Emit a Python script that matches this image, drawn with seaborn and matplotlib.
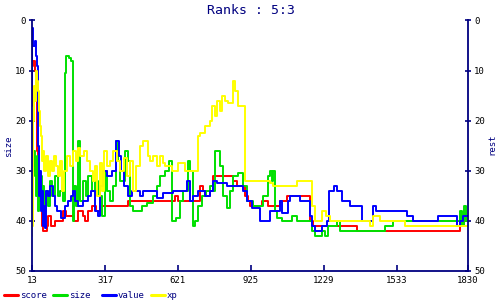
import matplotlib
matplotlib.use("Agg")
import matplotlib.pyplot as plt
import seaborn as sns
import pandas as pd
from matplotlib.lines import Line2D

sns.set_theme(style="white")
plt.rcParams['font.family'] = ['DejaVu Sans Mono', 'DejaVu Sans']

title = "Ranks : 5:3"
left_label = "size"
right_label = "rest"
series_names = ["score", "size", "value", "xp"]
series_colors = ["#ff0000", "#00e000", "#0000ff", "#ffff00"]
x_ticks = [13, 317, 621, 925, 1229, 1533, 1830]
y_ticks = [0, 10, 20, 30, 40, 50]

score_x = [13, 15, 17, 25, 30, 34, 38, 46, 55, 59, 76, 80, 92, 109, 142, 155, 188, 205, 226, 234,
           246, 263, 280, 296, 346, 413, 609, 622, 713, 726, 734, 755, 768, 851, 868, 901, 913, 921,
           972, 997, 1047, 1076, 1172, 1185, 1368, 1798, 1830]
score_y = [17, 9, 8, 10, 11, 26, 35, 36, 41, 42, 41, 39, 41, 40, 38, 39, 40, 38, 39, 40,
           38, 37, 38, 37, 37, 36, 35, 36, 33, 34, 35, 34, 31, 32, 33, 35, 36, 37,
           36, 37, 36, 35, 40, 41, 42, 40, 40]

size_x = [13, 17, 21, 25, 30, 34, 38, 42, 46, 51, 55, 59, 63, 71, 80, 88, 96, 109, 121, 130,
          142, 151, 155, 167, 176, 184, 188, 196, 205, 213, 226, 238, 246, 263, 276, 288, 305, 317,
          326, 338, 351, 363, 372, 380, 401, 413, 422, 434, 472, 493, 518, 534, 547, 568, 584, 597,
          613, 630, 643, 664, 672, 684, 693, 705, 722, 739, 755, 768, 776, 797, 809, 826, 839, 851,
          872, 893, 910, 935, 976, 997, 1005, 1014, 1018, 1026, 1035, 1056, 1097, 1118, 1180, 1193,
          1222, 1235, 1247, 1285, 1297, 1485, 1518, 1798, 1806, 1814, 1823, 1830]
size_y = [26, 29, 26, 31, 35, 27, 38, 33, 36, 31, 37, 33, 38, 34, 37, 32, 35, 31, 35, 34,
          36, 10.5, 7, 7.5, 8, 40, 33, 37, 24, 36, 32, 35, 31, 34, 32, 35, 39, 30,
          34, 36, 33, 24, 28, 32, 26, 28, 37, 38, 37, 36.5, 35, 33, 31, 30, 28, 40,
          39.5, 36, 34, 28, 30, 41, 40, 37, 35, 34, 33, 34, 26, 29, 35, 37.5, 34, 31,
          30.5, 33, 36, 37, 35, 31, 30, 32, 30, 38, 39.5, 40, 39, 40, 42, 43,
          42, 43, 41, 40, 42, 41, 40, 38, 41, 37, 40, 40]

value_x = [13, 15, 17, 25, 30, 34, 38, 42, 46, 51, 55, 59, 63, 67, 71, 80, 88, 101, 109, 117,
           134, 151, 163, 176, 184, 192, 205, 226, 246, 259, 276, 288, 296, 309, 326, 346, 363, 376,
           384, 397, 413, 430, 463, 476, 534, 559, 601, 659, 672, 684, 705, 734, 755, 768, 784, 826,
           893, 910, 930, 964, 1005, 1047, 1055, 1080, 1089, 1130, 1172, 1180, 1193, 1222, 1243, 1251,
           1272, 1285, 1306, 1339, 1389, 1435, 1447, 1577, 1602, 1706, 1785, 1798, 1810, 1830]
value_y = [13, 1.5, 5, 4, 7, 9, 25, 35, 30, 38, 34, 41, 37, 41.5, 34, 35, 33, 35, 37, 38,
           39.5, 37, 36, 35, 34, 36, 37, 36, 35, 34, 38, 39, 33, 30, 31, 30, 24, 27,
           30, 33, 35, 34, 35, 34, 35.5, 34.5, 34, 32, 36, 35, 34, 35, 34, 32, 32.5, 33,
           34, 36, 37.5, 40, 38, 36, 38.5, 36, 35, 36, 39, 41, 42, 41, 40, 34,
           33, 34, 36, 37, 40, 37, 38, 39, 40, 39, 41, 40, 39, 39]

xp_x = [13, 15, 17, 21, 25, 30, 34, 38, 42, 46, 51, 55, 59, 63, 71, 80, 88, 96, 105, 113,
        121, 130, 138, 146, 159, 171, 184, 196, 205, 213, 230, 242, 255, 267, 276, 284, 296, 305,
        313, 326, 338, 351, 367, 380, 397, 409, 422, 434, 447, 463, 476, 497, 505, 517, 534, 547,
        559, 568, 597, 622, 651, 705, 713, 734, 755, 763, 776, 784, 797, 805, 818, 830, 851, 859,
        872, 901, 1005, 1018, 1118, 1180, 1193, 1222, 1239, 1255, 1422, 1435, 1464, 1568, 1830]
xp_y = [43, 41, 20, 13, 16, 10, 12, 14, 18, 21, 23, 28, 26, 30, 27, 31, 28, 30, 27, 29,
        31, 28, 34, 30, 27, 29, 26, 28, 25.5, 27, 26, 28, 30, 32, 29, 35, 28.5, 34,
        26, 29, 28, 26, 28, 30, 27.5, 31, 28, 34, 29, 25, 24, 27, 28, 27, 29, 27,
        28.5, 29, 30, 28.5, 30, 23, 22.5, 21, 20, 17, 19, 16, 18, 15, 16, 16.5, 12, 14,
        17, 32, 32.5, 33, 32, 37, 40, 38, 39, 40, 41, 39, 40, 41, 41]

NAVY = "#000080"

frames = []
for name, xs, ys in [("score", score_x, score_y), ("size", size_x, size_y),
                     ("value", value_x, value_y), ("xp", xp_x, xp_y)]:
    frames.append(pd.DataFrame({"x": xs, "rank": ys, "series": name}))
df = pd.concat(frames, ignore_index=True)

fig = plt.figure(figsize=(5, 3), dpi=100)
fig.patch.set_facecolor("white")
ax = fig.add_axes([0.064, 0.0977, 0.872, 0.834])
ax.set_facecolor("white")

sns.lineplot(data=df, x="x", y="rank", hue="series", hue_order=series_names,
             palette=dict(zip(series_names, series_colors)), drawstyle="steps-post",
             estimator=None, sort=False, legend=False, linewidth=1.4, ax=ax)

ax.set_xlim(13, 1830)
ax.set_ylim(50, 0)
ax.set_xticks(x_ticks)
ax.set_xticklabels([str(t) for t in x_ticks])
ax.set_yticks(y_ticks)
ax.set_xlabel("")
ax.set_ylabel("")

for s in ["left", "right", "bottom"]:
    ax.spines[s].set_color(NAVY)
    ax.spines[s].set_linewidth(1.3)
    ax.spines[s].set_visible(True)
ax.spines["top"].set_visible(False)

ax.tick_params(axis="y", which="both", direction="inout", length=5, width=1.2, color=NAVY,
               labelsize=6.5, labelcolor="black", pad=2, left=True, right=True,
               labelleft=True, labelright=True)
ax.tick_params(axis="x", direction="in", length=4, width=1.2, color=NAVY,
               labelsize=6.5, labelcolor="black", pad=4, bottom=True)
ax.grid(False)

fig.text(0.502, 1 - 10 / 300, title, ha="center", va="center", color=NAVY, fontsize=9.5)
fig.text(9 / 500, 1 - 146 / 300, left_label, ha="center", va="center", rotation=90,
         color=NAVY, fontsize=6.5)
fig.text(492 / 500, 1 - 144 / 300, right_label, ha="center", va="center", rotation=90,
         color=NAVY, fontsize=6.5)

legend_x = [4, 53, 102, 151]
ly = 1 - 295 / 300
for px, name, col in zip(legend_x, series_names, series_colors):
    fig.add_artist(Line2D([px / 500, (px + 14) / 500], [ly, ly], color=col, linewidth=2.2,
                          transform=fig.transFigure))
    fig.text((px + 16) / 500, ly, name, ha="left", va="center", color=NAVY, fontsize=6.5)

fig.savefig("out.png", dpi=100, facecolor="white")
